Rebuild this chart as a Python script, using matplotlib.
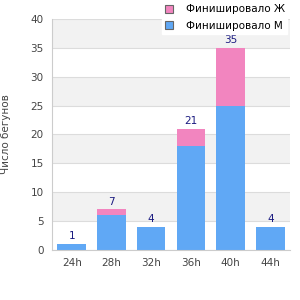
import matplotlib
matplotlib.use("Agg")
import matplotlib.pyplot as plt
import numpy as np

categories = ["24h", "28h", "32h", "36h", "40h", "44h"]
male = [1, 6, 4, 18, 25, 4]
female = [0, 1, 0, 3, 10, 0]
totals = [m + f for m, f in zip(male, female)]
yticks = [0, 5, 10, 15, 20, 25, 30, 35, 40]

plt.rcParams['font.family'] = ['DejaVu Sans']
fig = plt.figure(figsize=(3, 3), dpi=100)
ax = fig.add_axes([0.173, 0.167, 0.794, 0.77])

blue = "#60a8f5"
pink = "#f285bf"
x = np.arange(len(categories))
for i in range(0, 40, 10):
    ax.axhspan(i + 5, i + 10, color="#f2f2f2", zorder=0, lw=0)
ax.bar(x, male, width=0.72, color=blue, zorder=2, label="Финишировало М")
ax.bar(x, female, bottom=male, width=0.72, color=pink, zorder=2, label="Финишировало Ж")
for xi, t in zip(x, totals):
    ax.text(xi, t + 0.5, str(t), ha="center", va="bottom", fontsize=7.5, color="#1a1a80", zorder=3)

ax.set_xlim(-0.5, len(categories) - 0.5)
ax.set_ylim(0, 40)
ax.set_yticks(yticks)
ax.set_xticks(x)
ax.set_xticklabels(categories)
ax.yaxis.grid(True, color="#dcdcdc", lw=0.8, zorder=1)
ax.set_axisbelow(True)
for s in ["top", "right"]:
    ax.spines[s].set_visible(False)
for s in ["left", "bottom"]:
    ax.spines[s].set_color("#cccccc")
ax.tick_params(axis="both", length=0, labelsize=7.5, colors="#444444", pad=6)
ax.set_ylabel("Число бегунов", fontsize=7.5, color="#444444")
ax.yaxis.set_label_coords(-0.17, 0.5)

handles, labels = ax.get_legend_handles_labels()
leg = fig.legend(handles[::-1], labels[::-1], loc="upper right", bbox_to_anchor=(0.975, 1.012),
                 fontsize=7.5, frameon=True, fancybox=False, framealpha=1, edgecolor="white",
                 handlelength=0.8, handleheight=0.8, handletextpad=1.2, borderpad=0.25, labelspacing=0.65)
for h in leg.legend_handles:
    h.set_edgecolor("#666666")
    h.set_linewidth(0.8)
leg.set_zorder(10)

fig.savefig("out.png", dpi=100)
